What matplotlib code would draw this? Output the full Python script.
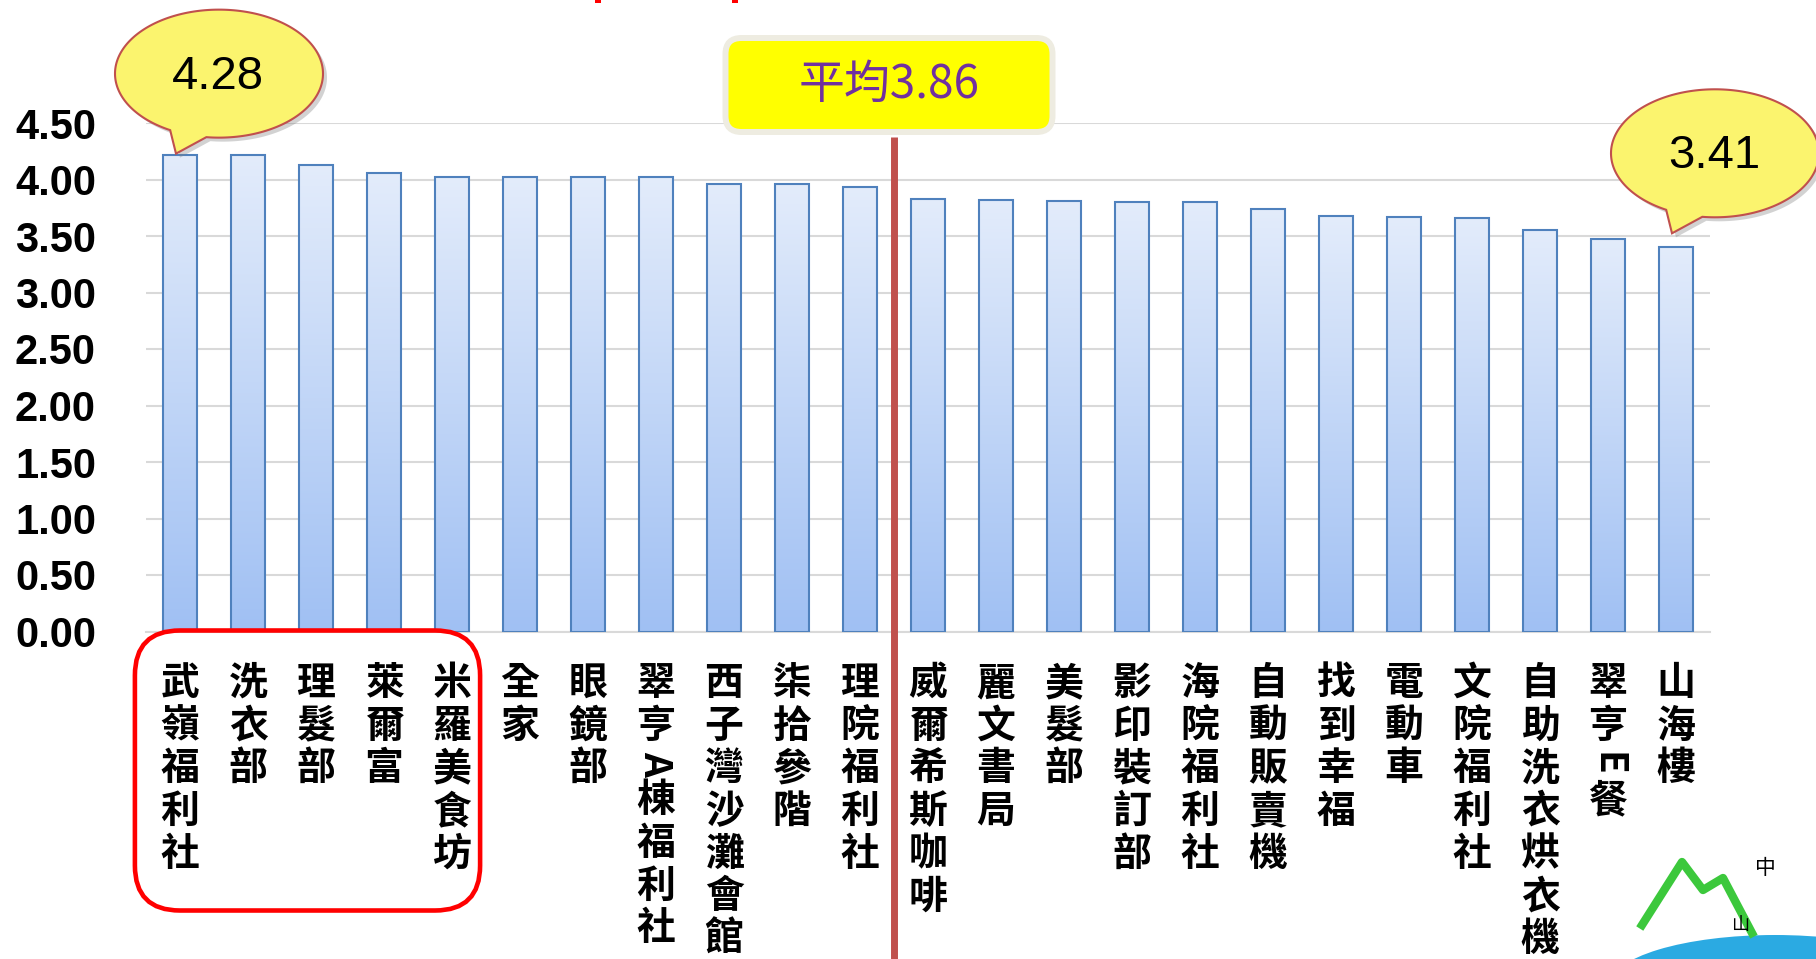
import numpy as np
import matplotlib
matplotlib.use("Agg")
import matplotlib.pyplot as plt
from matplotlib.patches import Polygon, FancyBboxPatch, Rectangle, Ellipse
from matplotlib.lines import Line2D
from matplotlib.transforms import IdentityTransform, blended_transform_factory
from matplotlib.colors import LinearSegmentedColormap

plt.rcParams['font.family'] = ['Noto Sans CJK TC', 'DejaVu Sans']

# data
shops = ['武嶺福利社', '洗衣部', '理髮部', '萊爾富', '米羅美食坊', '全家', '眼鏡部',
         '翠亨A棟福利社', '西子灣沙灘會館', '柒拾參階', '理院福利社', '威爾希斯咖啡',
         '麗文書局', '美髮部', '影印裝訂部', '海院福利社', '自動販賣機', '找到幸福',
         '電動車', '文院福利社', '自助洗衣烘衣機', '翠亨E餐', '山海樓']
scores = [4.22, 4.22, 4.13, 4.06, 4.02, 4.02, 4.02, 4.02, 3.96, 3.96, 3.93,
          3.83, 3.82, 3.81, 3.80, 3.80, 3.74, 3.68, 3.67, 3.66, 3.55, 3.47, 3.40]
mean_score = 3.86
max_label = '4.28'
min_label = '3.41'
yticks = np.arange(0, 4.51, 0.5)

W, H = 1816, 959
fig = plt.figure(figsize=(W / 100, H / 100), dpi=100)
ax = fig.add_axes([146 / W, 1 - 631.5 / H, (1710 - 146) / W, (631.5 - 123) / H])
PX = IdentityTransform()

# BARS with gradient fill
x = np.arange(len(shops))
bars = ax.bar(x, scores, width=0.51, facecolor='none', edgecolor='#4F81BD',
              linewidth=1.5, zorder=3)
cmap = LinearSegmentedColormap.from_list('bar', ['#A0C0F3', '#E3ECFB'])
grad = np.linspace(0, 1, 256).reshape(-1, 1)
for b in bars:
    x0, w, h = b.get_x(), b.get_width(), b.get_height()
    im = ax.imshow(grad, extent=[x0, x0 + w, 0, h], origin='lower', cmap=cmap,
                   aspect='auto', zorder=2)
    im.set_clip_path(b)

ax.set_xlim(-0.5, len(shops) - 0.5)
ax.set_ylim(0, 4.5)
ax.set_yticks(yticks)
ax.set_yticklabels([f'{t:.2f}' for t in yticks], fontsize=30, fontweight='bold',
                   family=['Liberation Sans', 'DejaVu Sans'])
ax.yaxis.grid(True, color='#D9D9D9', lw=1.5)
ax.set_axisbelow(True)
ax.tick_params(axis='y', length=0, pad=36)
ax.set_xticks(x)
ax.tick_params(axis='x', length=0, labelbottom=False)
for s in ['top', 'right', 'left']:
    ax.spines[s].set_visible(False)
ax.spines['bottom'].set_color('#D9D9D9')
ax.spines['bottom'].set_linewidth(1.5)

# vertical category labels, one character at a time
trans = blended_transform_factory(ax.transData, ax.transAxes)
pitch = 30.7
for i, name in enumerate(shops):
    y = -22.1
    for ch in name:
        latin = ch.isascii()
        step = pitch * (0.75 if latin else 1.0)
        ax.annotate(ch, xy=(i, 0), xycoords=trans, xytext=(0, y - step / 2),
                    textcoords='offset points', ha='center', va='center',
                    fontsize=28, fontweight='bold', rotation=-90 if latin else 0,
                    annotation_clip=False)
        y -= step

# AVERAGE line between the bars above and below the mean
split = sum(s > mean_score for s in scores) - 0.5
ax.plot([split, split], [(631.5 - 137) / 508.5, -0.7], transform=trans,
        color='#C0504D', lw=5, clip_on=False, zorder=4, solid_capstyle='butt')

box = FancyBboxPatch((725.5, H - 132), 327, 94, boxstyle='round,pad=0,rounding_size=16',
                     fc='#FFFF00', ec='#EEECE1', lw=4.3, transform=PX)
fig.add_artist(box)
fig.text(889, H - 85, f'平均{mean_score:.2f}', transform=PX, ha='center', va='center',
         fontsize=33, color='#7030A0')


# speech bubbles for max / min
def bubble(tip, text):
    tx, ty = tip
    cx, cy = tx + 43, ty + 80
    rx, ry = 104, 64
    th = np.linspace(np.radians(-97), np.radians(242), 200)
    pts = np.column_stack([cx + rx * np.cos(th), cy + ry * np.sin(th)])
    pts = np.vstack([pts, [tx, ty]])
    shadow = Polygon(pts + [4, -4], closed=True, fc='#7F7F7F', ec='none', alpha=0.35,
                     transform=PX)
    fig.add_artist(shadow)
    fig.add_artist(Polygon(pts, closed=True, fc='#FBF46E', ec='#C0504D', lw=1.5,
                           transform=PX))
    fig.text(cx - 1, cy - 3, text, transform=PX, ha='center', va='center', fontsize=34,
             family=['Liberation Sans', 'DejaVu Sans'])


tip1 = ax.transData.transform((0, scores[0])) + [-4, 1]
tip2 = ax.transData.transform((len(shops) - 1, scores[-1])) + [-4, 14]
bubble(tip1, max_label)
bubble(tip2, min_label)

# red frame round the top five labels
l = ax.transData.transform((-0.7, 0))[0]
r = ax.transData.transform((4.45, 0))[0]
frame = FancyBboxPatch((l + 2.5, H - 910.5), r - l - 5, 280,
                       boxstyle='round,pad=0,rounding_size=45', fc='none', ec='#FF0000',
                       lw=3.3, transform=PX)
fig.add_artist(frame)

# cut-off red marks at the top
fig.add_artist(Rectangle((595, H - 3), 6, 3, fc='#FF0000', ec='none', transform=PX))
fig.add_artist(Rectangle((732, H - 3), 6, 3, fc='#FF0000', ec='none', transform=PX))

# logo corner
fig.add_artist(Ellipse((1775, H - 985), 330, 100, fc='#2BAAE2', ec='none', transform=PX))
fig.add_artist(Line2D([1642, 1682, 1703, 1723, 1752], [H - 925, H - 862, H - 890, H - 878, H - 933],
                      color='#3CC83C', lw=6, solid_joinstyle='round', transform=PX))
fig.text(1765, H - 868, '中', transform=PX, ha='center', va='center', fontsize=15)
fig.text(1740, H - 925, '山', transform=PX, ha='center', va='center', fontsize=13)

fig.savefig('out.png', dpi=100)
